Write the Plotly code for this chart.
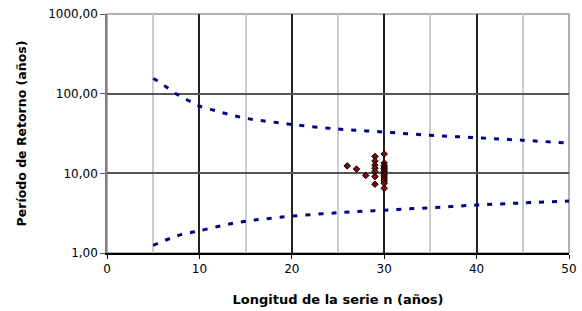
import plotly.graph_objects as go

# Confidence band curves (return period vs series length)
n_band = [5, 6, 7, 8, 9, 10, 12, 14, 16, 18, 20, 25, 30, 35, 40, 45, 50]
upper = [155, 132, 108, 92, 80, 70, 60, 52, 47, 44, 41, 36, 33, 30, 28, 26, 24]
lower = [1.25, 1.4, 1.55, 1.7, 1.8, 1.9, 2.15, 2.4, 2.6, 2.75, 2.9, 3.2, 3.45, 3.7, 4.0, 4.25, 4.5]

# Observed points
obs_n = [26, 27, 28,
         29, 29, 29, 29, 29, 29, 29,
         30, 30, 30, 30, 30, 30, 30, 30, 30, 30, 30, 30, 30, 30]
obs_T = [12.4, 11.3, 9.4,
         16.3, 14.3, 12.7, 11.6, 10.5, 9.1, 7.3,
         17.5, 13.5, 12.5, 12.0, 11.5, 11.0, 10.5, 10.0, 9.5, 9.0, 8.5, 8.0, 7.5, 6.5]

y_tickvals = [1, 10, 100, 1000]
y_ticktext = ["1,00", "10,00", "100,00", "1000,00"]
x_tickvals = [0, 10, 20, 30, 40, 50]

fig = go.Figure()
for ys in (upper, lower):
    fig.add_trace(go.Scatter(x=n_band, y=ys, mode="lines", line_shape="spline",
                             line=dict(color="#000080", width=3, dash="5px,8px"),
                             showlegend=False, hoverinfo="skip"))
fig.add_trace(go.Scatter(x=obs_n, y=obs_T, mode="markers",
                         marker=dict(symbol="diamond", size=5, color="#7a0a0a",
                                     line=dict(color="#000000", width=1)),
                         showlegend=False))

font_family = "DejaVu Sans, Liberation Sans, Arial, sans-serif"
fig.update_layout(
    width=582, height=311,
    margin=dict(l=107, r=13, t=14, b=58),
    paper_bgcolor="white", plot_bgcolor="white",
    font=dict(family=font_family, size=12, color="black"),
    xaxis=dict(range=[0, 50], tickvals=x_tickvals, ticks="outside", ticklen=4,
               tickcolor="black", showline=True, linecolor="black", linewidth=1.5,
               showgrid=True, gridcolor="#222222", gridwidth=1.5, zeroline=False,
               automargin=False,
               minor=dict(dtick=5, showgrid=True, gridcolor="#cccccc", gridwidth=2, ticks=""),
               title=dict(text="<b>Longitud de la serie n (años)</b>", standoff=20,
                          font=dict(size=13))),
    yaxis=dict(type="log", range=[0, 3], tickvals=y_tickvals, ticktext=y_ticktext,
               ticks="outside", ticklen=5, tickcolor="#555555",
               showline=True, linecolor="#808080", linewidth=1.5,
               showgrid=True, gridcolor="#555555", gridwidth=1.5, zeroline=False,
               automargin=False,
               title=dict(text="<b>Período de Retorno (años)</b>", standoff=19,
                          font=dict(size=12.5))),
    shapes=[dict(type="rect", xref="paper", yref="paper", x0=0, x1=1, y0=0, y1=1,
                 line=dict(color="#999999", width=1.5), layer="below")],
)

# remove the browser's default 8px body margin so the figure sits at the page origin
fig.write_html("out.html", config={"displayModeBar": False},
               post_script="document.body.style.margin='0';")
